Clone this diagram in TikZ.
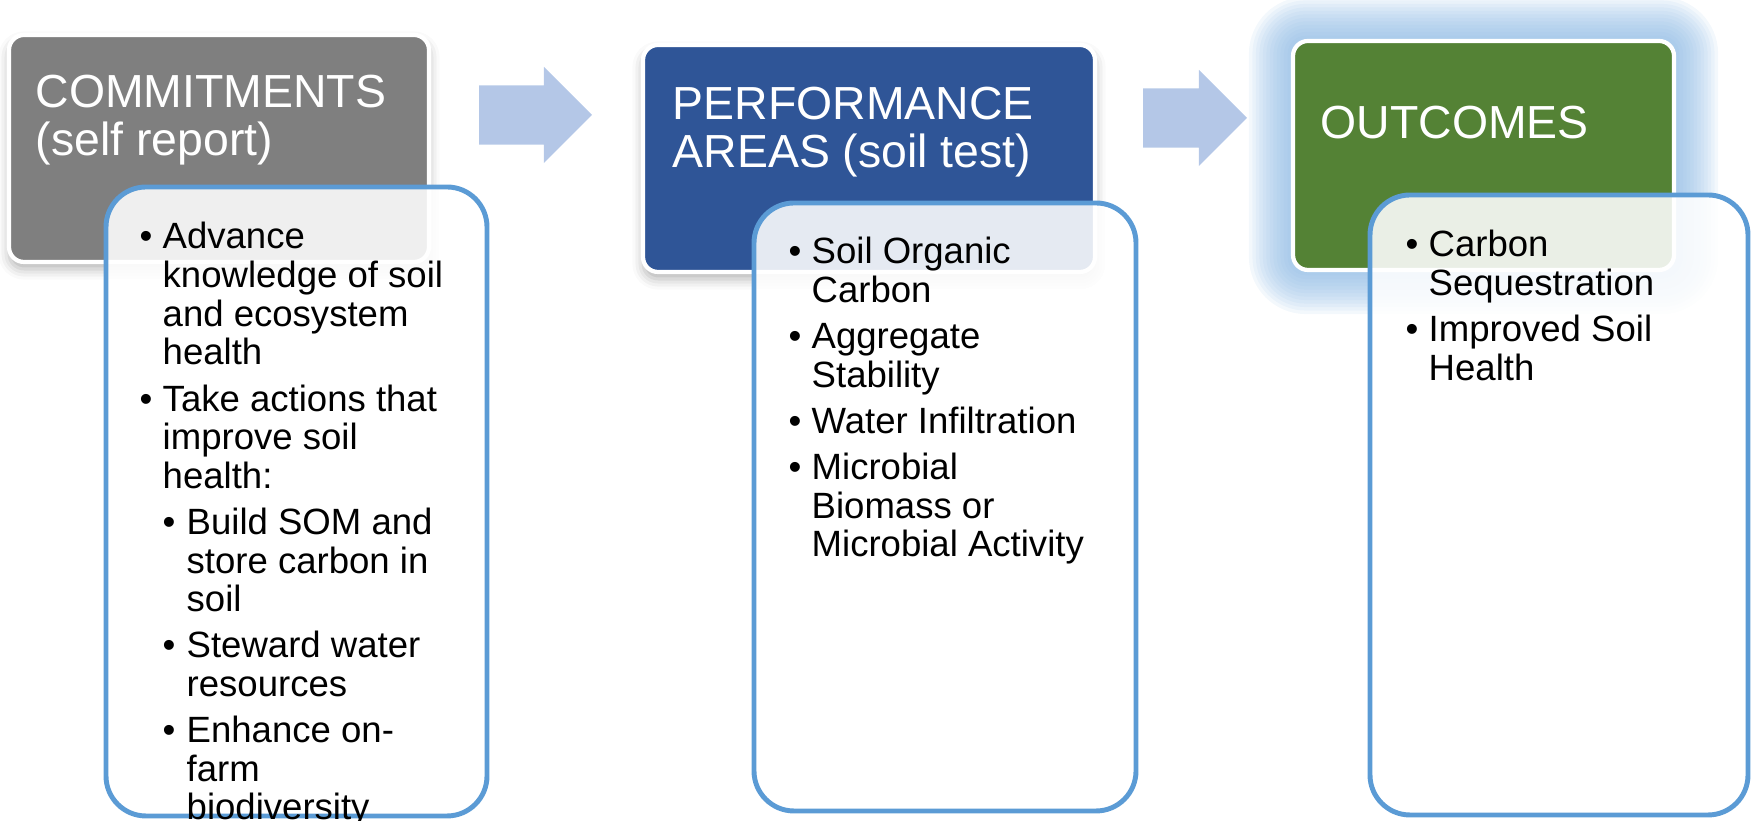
\documentclass[tikz,border=0pt]{standalone}
\usepackage{fontspec}
\setmainfont{Liberation Sans}
\usepackage{tikz}
\usetikzlibrary{shapes.arrows, shadows.blur, calc}
\definecolor{commitgray}{HTML}{7F7F7F}
\definecolor{perfblue}{HTML}{2F5597}
\definecolor{outcgreen}{HTML}{548235}
\definecolor{listblue}{HTML}{5B9BD5}
\definecolor{flowblue}{HTML}{B4C7E7}
\definecolor{glowblue}{HTML}{8DB9E4}
\pgfdeclarelayer{background}
\pgfsetlayers{background,main}
\tikzstyle{header} = [rectangle, rounded corners=0.15cm, minimum height=2.27cm, inner sep=0pt, draw=white, line width=1.2pt]
\tikzstyle{dropshadow} = [blur shadow={shadow xshift=0pt, shadow yshift=-2pt, shadow blur radius=3pt, shadow opacity=30}]
\tikzstyle{listbox} = [rectangle, rounded corners=0.4cm, inner sep=0pt, draw=listblue, line width=1.4pt, fill=white, fill opacity=0.88]
\tikzstyle{flow} = [single arrow, anchor=tip, fill=flowblue, inner sep=0pt, inner ysep=0.29cm, single arrow head extend=0.185cm]
\tikzstyle{title} = [anchor=base west, inner sep=0pt, text=white, font=\fontsize{13.2}{13.66}\selectfont]
\tikzstyle{list} = [anchor=base west, inner sep=0pt, text=black, font=\fontsize{10.4}{11}\selectfont]
\newcommand{\bitem}[1]{\par\hangindent=0.19cm\hangafter=1\noindent\makebox[0.19cm][l]{\hspace*{-0.04cm}\textbullet}#1}
\newcommand{\bsub}[1]{\par\hangindent=0.43cm\hangafter=1\noindent\hspace*{0.23cm}\makebox[0.20cm][l]{\hspace*{-0.04cm}\textbullet}#1}
\newcommand{\bullist}[1]{\begin{minipage}[t]{3.4cm}\setlength{\parskip}{2.1pt}#1\end{minipage}}
\begin{document}
\begin{tikzpicture}
    \useasboundingbox (0,0) rectangle (17.58,8.21);

        % Nodes
        \node (commit) [header, dropshadow, fill=commitgray, minimum width=4.2cm] at (2.19,6.725) {};
        \node (perf) [header, dropshadow, fill=perfblue, minimum width=4.52cm] at (8.69,6.625) {};
        \node (outc) [header, fill=outcgreen, minimum width=3.81cm, minimum height=2.29cm] at (14.835,6.655) {};
        \begin{pgfonlayer}{background}
            \foreach \g in {1,...,12}
                \fill[glowblue, opacity=0.1, rounded corners=0.15cm+\g*0.035cm] ($(outc.south west)+(-\g*0.035,-\g*0.035)$) rectangle ($(outc.north east)+(\g*0.035,\g*0.035)$);
        \end{pgfonlayer}

        \node (committitle) [title] at (0.35,7.13) {\parbox[t]{4cm}{COMMITMENTS\\(self report)}};
        \node (perftitle) [title] at (6.72,7.015) {\parbox[t]{4cm}{PERFORMANCE\\AREAS (soil test)}};
        \node (outctitle) [title] at (13.20,6.82) {OUTCOMES};

        \node (commitlist) [listbox, minimum width=3.81cm, minimum height=6.29cm] at (2.965,3.195) {};
        \node (perflist) [listbox, minimum width=3.82cm, minimum height=6.08cm] at (9.45,3.14) {};
        \node (outclist) [listbox, minimum width=3.78cm, minimum height=6.2cm] at (15.59,3.16) {};

        \node (commititems) [list] at (1.43,5.72) {\bullist{%
            \bitem{Advance\\knowledge of soil\\and ecosystem\\health}%
            \bitem{Take actions that\\improve soil\\health:}%
            \bsub{Build SOM and\\store carbon in\\soil}%
            \bsub{Steward water\\resources}%
            \bsub{Enhance on-\\farm\\biodiversity}}};
        \node (perfitems) [list] at (7.92,5.57) {\bullist{%
            \bitem{Soil Organic\\Carbon}%
            \bitem{Aggregate\\Stability}%
            \bitem{Water Infiltration}%
            \bitem{Microbial\\Biomass or\\Microbial Activity}}};
        \node (outcitems) [list] at (14.09,5.64) {\bullist{%
            \bitem{Carbon\\Sequestration}%
            \bitem{Improved Soil\\Health}}};

        % Arrows
        \node (flowA) [flow, minimum height=1.13cm] at (5.93,7.06) {};
        \node (flowB) [flow, minimum height=1.04cm] at (12.48,7.03) {};

\end{tikzpicture}
\end{document}
